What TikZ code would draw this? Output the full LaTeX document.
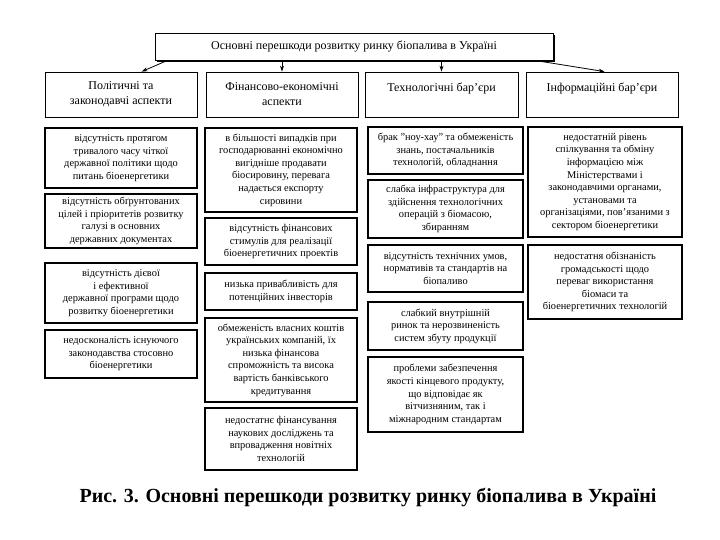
\documentclass[tikz,border=0pt]{standalone}
\usepackage{fontspec}
\setmainfont{Liberation Serif}
\usetikzlibrary{arrows.meta}
\begin{document}
\begin{tikzpicture}[x=1pt,y=-1pt,
 sbox/.style={draw, line width=1.2pt, align=center, font=\fontsize{10.4}{12.6}\selectfont, inner sep=1pt},
 cbox/.style={draw, line width=0.8pt, align=center, font=\fontsize{12}{15}\selectfont, inner sep=1pt, minimum height=45pt},
 arr/.style={-{Stealth[length=6pt,width=4pt]}, line width=0.8pt}]
\useasboundingbox (0,0) rectangle (720,540);

% title with shadow
\fill (157,35) rectangle (555,62);
\node[draw, fill=white, line width=0.8pt, minimum width=398pt, minimum height=27pt, font=\fontsize{12}{14}\selectfont] (title) at (354,46.5) {Основні перешкоди розвитку ринку біопалива в Україні};

% categories
\node[cbox, minimum width=152pt] (k1) at (121,94.5) {Політичні та\\законодавчі аспекти};
\node[cbox, minimum width=152pt] (k2) at (282,94.5) {Фінансово-економічні\\аспекти};
\node[cbox, minimum width=153pt] (k3) at (441.5,94.5) {Технологічні бар'єри\\\mbox{}};
\node[cbox, minimum width=152pt] (k4) at (602,94.5) {Інформаційні бар'єри\\\mbox{}};

\draw[arr] ([xshift=13]title.south west) -- ([xshift=97]k1.north west);
\draw[arr] (k2.north |- title.south) -- (k2.north);
\draw[arr] (k3.north |- title.south) -- (k3.north);
\draw[arr] ([xshift=380]title.south west) -- ([xshift=79]k4.north west);

% column 1
\node[sbox, minimum width=152pt, minimum height=60pt] (c1a) at (121,158) {відсутність протягом\\тривалого часу чіткої\\державної політики щодо\\питань біоенергетики};
\node[sbox, minimum width=152pt, minimum height=54pt] (c1b) at (121,221) {відсутність обґрунтованих\\цілей і пріоритетів розвитку\\галузі в основних\\державних документах};
\node[sbox, minimum width=152pt, minimum height=60pt] (c1c) at (121,293) {відсутність дієвої\\і ефективної\\державної програми щодо\\розвитку біоенергетики};
\node[sbox, minimum width=152pt, minimum height=48pt] (c1d) at (121,354) {недосконалість існуючого\\законодавства стосовно\\біоенергетики};

% column 2
\node[sbox, minimum width=152pt, minimum height=84pt] (c2a) at (281,170) {в більшості випадків при\\господарюванні економічно\\вигідніше продавати\\біосировину, перевага\\надається експорту\\сировини};
\node[sbox, minimum width=152pt, minimum height=47pt] (c2b) at (281,241.5) {відсутність фінансових\\стимулів для реалізації\\біоенергетичних проектів};
\node[sbox, minimum width=152pt, minimum height=37pt] (c2c) at (281,291.5) {низька привабливість для\\потенційних інвесторів};
\node[sbox, minimum width=152pt, minimum height=84pt] (c2d) at (281,360) {обмеженість власних коштів\\українських компаній, їх\\низька фінансова\\спроможність та висока\\вартість банківського\\кредитування};
\node[sbox, minimum width=152pt, minimum height=62pt] (c2e) at (281,439) {недостатнє фінансування\\наукових досліджень та\\впровадження новітніх\\технологій};

% column 3
\node[sbox, minimum width=155pt, minimum height=47pt] (c3a) at (445.5,150.5) {брак "ноу-хау" та обмеженість\\знань, постачальників\\технологій, обладнання};
\node[sbox, minimum width=155pt, minimum height=58pt] (c3b) at (445.5,209) {слабка інфраструктура для\\здійснення технологічних\\операцій з біомасою,\\збиранням};
\node[sbox, minimum width=155pt, minimum height=47pt] (c3c) at (445.5,268.5) {відсутність технічних умов,\\нормативів та стандартів на\\біопаливо};
\node[sbox, minimum width=155pt, minimum height=48pt] (c3d) at (445.5,326) {слабкий внутрішній\\ринок та нерозвиненість\\систем збуту продукції};
\node[sbox, minimum width=155pt, minimum height=75pt] (c3e) at (445.5,394.5) {проблеми забезпечення\\якості кінцевого продукту,\\що відповідає як\\вітчизняним, так і\\міжнародним стандартам};

% column 4
\node[sbox, minimum width=154pt, minimum height=110pt] (c4a) at (605,182) {недостатній рівень\\спілкування та обміну\\інформацією між\\Міністерствами і\\законодавчими органами,\\установами та\\організаціями, пов'язаними з\\сектором біоенергетики};
\node[sbox, minimum width=154pt, minimum height=74pt] (c4b) at (605,282) {недостатня обізнаність\\громадськості щодо\\переваг використання\\біомаси та\\біоенергетичних технологій};

% caption
\node[font=\fontsize{20}{22}\selectfont\bfseries] (cap) at (368,497) {Рис. 3. Основні перешкоди розвитку ринку біопалива в Україні};
\end{tikzpicture}
\end{document}
